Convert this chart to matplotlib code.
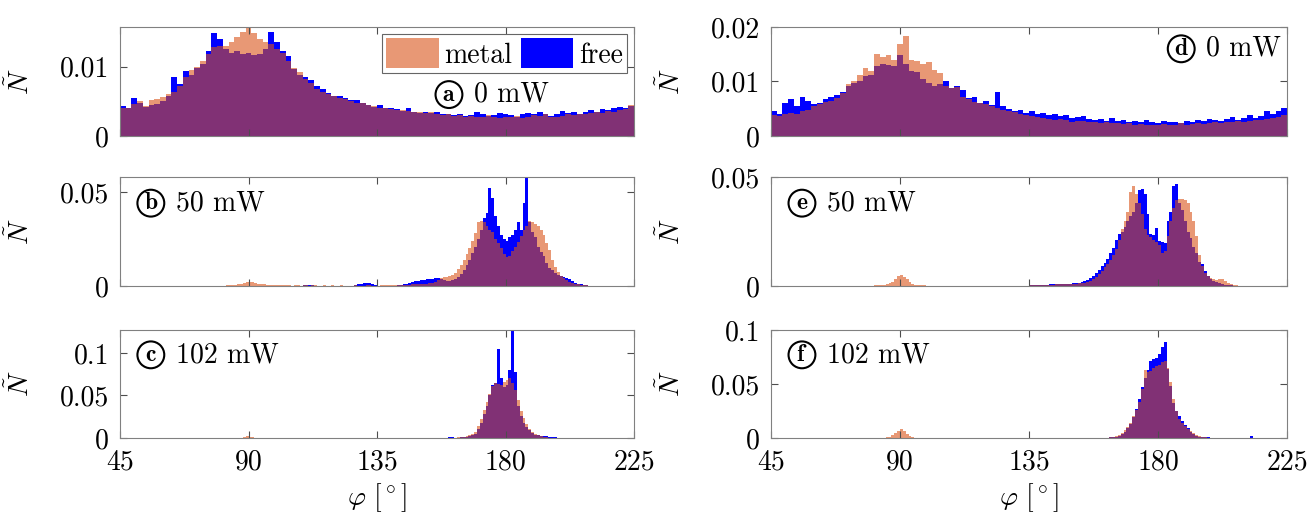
import numpy as np
import matplotlib
matplotlib.use("Agg")
import matplotlib.pyplot as plt
from matplotlib.patches import Patch

plt.rcParams["font.family"] = ["cmr10", "DejaVu Serif"]
plt.rcParams["mathtext.fontset"] = "cm"
plt.rcParams["axes.formatter.use_mathtext"] = True

# colours (MATLAB style)
col_metal = (0.85, 0.325, 0.098)
col_free = (0.0, 0.0, 1.0)

# ---- panel a: 0 mW (2 deg bins from 45) ----
a_start = 45
a_metal = [0.0040, 0.0041, 0.0046, 0.0050, 0.0043, 0.0052, 0.0054, 0.0056, 0.0060, 0.0064,
           0.0072, 0.0085, 0.0095, 0.0100, 0.0108, 0.0118, 0.0128, 0.0130, 0.0130, 0.0135,
           0.0142, 0.0150, 0.0155, 0.0148, 0.0140, 0.0135, 0.0132, 0.0125, 0.0120, 0.0108,
           0.0098, 0.0092, 0.0082, 0.0076, 0.0068, 0.0064, 0.0060, 0.0058, 0.0055, 0.0053,
           0.0050, 0.0048, 0.0047, 0.0044, 0.0043, 0.0040, 0.0041, 0.0039, 0.0037, 0.0038,
           0.0036, 0.0035, 0.0034, 0.0033, 0.0035, 0.0032, 0.0030, 0.0031, 0.0029, 0.0030,
           0.0028, 0.0029, 0.0027, 0.0028, 0.0030, 0.0027, 0.0026, 0.0028, 0.0027, 0.0029,
           0.0026, 0.0028, 0.0030, 0.0029, 0.0031, 0.0028, 0.0027, 0.0029, 0.0031, 0.0030,
           0.0032, 0.0031, 0.0033, 0.0034, 0.0033, 0.0036, 0.0035, 0.0038, 0.0039, 0.0045]
a_free = [0.0043, 0.0040, 0.0055, 0.0047, 0.0042, 0.0044, 0.0046, 0.0050, 0.0058, 0.0085,
          0.0075, 0.0093, 0.0088, 0.0098, 0.0104, 0.0122, 0.0148, 0.0140, 0.0125, 0.0120,
          0.0122, 0.0118, 0.0120, 0.0116, 0.0118, 0.0125, 0.0150, 0.0135, 0.0122, 0.0115,
          0.0096, 0.0088, 0.0085, 0.0080, 0.0072, 0.0067, 0.0062, 0.0058, 0.0057, 0.0055,
          0.0052, 0.0052, 0.0048, 0.0045, 0.0042, 0.0044, 0.0040, 0.0040, 0.0039, 0.0036,
          0.0040, 0.0035, 0.0033, 0.0035, 0.0033, 0.0034, 0.0031, 0.0032, 0.0030, 0.0031,
          0.0029, 0.0030, 0.0034, 0.0031, 0.0029, 0.0030, 0.0033, 0.0032, 0.0030, 0.0028,
          0.0031, 0.0033, 0.0032, 0.0034, 0.0031, 0.0029, 0.0031, 0.0036, 0.0033, 0.0035,
          0.0032, 0.0034, 0.0037, 0.0034, 0.0039, 0.0037, 0.0040, 0.0042, 0.0041, 0.0043]

# ---- panel d: 0 mW (2 deg bins from 45) ----
d_start = 45
d_metal = [0.0038, 0.0036, 0.0040, 0.0042, 0.0040, 0.0045, 0.0048, 0.0055, 0.0058, 0.0062,
           0.0065, 0.0070, 0.0078, 0.0095, 0.0100, 0.0112, 0.0125, 0.0120, 0.0150, 0.0145,
           0.0148, 0.0140, 0.0168, 0.0183, 0.0140, 0.0138, 0.0132, 0.0135, 0.0122, 0.0115,
           0.0092, 0.0088, 0.0090, 0.0072, 0.0068, 0.0062, 0.0060, 0.0058, 0.0055, 0.0052,
           0.0048, 0.0045, 0.0044, 0.0040, 0.0038, 0.0036, 0.0034, 0.0033, 0.0032, 0.0030,
           0.0031, 0.0029, 0.0026, 0.0028, 0.0027, 0.0025, 0.0026, 0.0024, 0.0025, 0.0023,
           0.0024, 0.0022, 0.0023, 0.0021, 0.0022, 0.0020, 0.0021, 0.0020, 0.0022, 0.0020,
           0.0021, 0.0023, 0.0021, 0.0022, 0.0024, 0.0022, 0.0023, 0.0025, 0.0024, 0.0026,
           0.0025, 0.0027, 0.0026, 0.0028, 0.0030, 0.0029, 0.0031, 0.0033, 0.0035, 0.0038]
d_free = [0.0045, 0.0040, 0.0060, 0.0068, 0.0055, 0.0072, 0.0065, 0.0058, 0.0060, 0.0068,
          0.0072, 0.0075, 0.0080, 0.0092, 0.0098, 0.0100, 0.0110, 0.0112, 0.0128, 0.0132,
          0.0130, 0.0128, 0.0148, 0.0132, 0.0120, 0.0118, 0.0105, 0.0098, 0.0092, 0.0095,
          0.0100, 0.0088, 0.0092, 0.0085, 0.0070, 0.0072, 0.0060, 0.0065, 0.0056, 0.0080,
          0.0055, 0.0050, 0.0046, 0.0048, 0.0042, 0.0045, 0.0040, 0.0042, 0.0038, 0.0040,
          0.0036, 0.0039, 0.0033, 0.0035, 0.0036, 0.0032, 0.0030, 0.0031, 0.0028, 0.0033,
          0.0027, 0.0030, 0.0026, 0.0028, 0.0025, 0.0030, 0.0026, 0.0024, 0.0027, 0.0025,
          0.0026, 0.0024, 0.0028, 0.0026, 0.0029, 0.0027, 0.0032, 0.0030, 0.0028, 0.0032,
          0.0035, 0.0030, 0.0033, 0.0038, 0.0033, 0.0036, 0.0046, 0.0040, 0.0045, 0.0052]

# ---- panel b: 50 mW (1 deg bins from 80) ----
b_start = 80
b_metal = [0.0002, 0.0002, 0.0003, 0.0004, 0.0005, 0.0006, 0.0008, 0.0012, 0.0016, 0.0020,
           0.0022, 0.0020, 0.0016, 0.0012, 0.0010, 0.0008, 0.0007, 0.0006, 0.0005, 0.0004,
           0.0004, 0.0003, 0.0003, 0.0003, 0.0003, 0.0002, 0.0003, 0.0003, 0.0002, 0.0003,
           0.0003, 0.0002, 0.0003, 0.0003, 0.0002, 0.0002, 0.0003, 0.0002, 0.0002, 0.0003,
           0.0002, 0.0002, 0.0003, 0.0002, 0.0002, 0.0002, 0.0002, 0.0003, 0.0002, 0.0002,
           0.0002, 0.0003, 0.0003, 0.0002, 0.0002, 0.0002, 0.0003, 0.0003, 0.0003, 0.0003,
           0.0003, 0.0003, 0.0004, 0.0005, 0.0005, 0.0006, 0.0007, 0.0008, 0.0009, 0.0010,
           0.0008, 0.0010, 0.0012, 0.0015, 0.0018, 0.0022, 0.0030, 0.0040, 0.0046, 0.0050,
           0.0054, 0.0060, 0.0070, 0.0090, 0.0110, 0.0140, 0.0170, 0.0200, 0.0240, 0.0280,
           0.0340, 0.0345, 0.0340, 0.0320, 0.0300, 0.0290, 0.0250, 0.0230, 0.0200, 0.0170,
           0.0155, 0.0160, 0.0185, 0.0210, 0.0235, 0.0265, 0.0300, 0.0320, 0.0345, 0.0340,
           0.0330, 0.0320, 0.0300, 0.0270, 0.0230, 0.0190, 0.0140, 0.0100, 0.0075, 0.0055,
           0.0040, 0.0030, 0.0022, 0.0016, 0.0012, 0.0009, 0.0007, 0.0005, 0.0003, 0.0002,
           0.0001]
b_free = [0.0, 0.0, 0.0, 0.0, 0.0001, 0.0001, 0.0001, 0.0001, 0.0001, 0.0001,
          0.0001, 0.0001, 0.0001, 0.0001, 0.0001, 0.0, 0.0, 0.0, 0.0, 0.0,
          0.0, 0.0, 0.0, 0.0, 0.0, 0.0, 0.0, 0.0001, 0.0002, 0.0004,
          0.0006, 0.0005, 0.0003, 0.0001, 0.0, 0.0, 0.0, 0.0, 0.0, 0.0,
          0.0, 0.0, 0.0, 0.0, 0.0001, 0.0001, 0.0002, 0.0004, 0.0008, 0.0012,
          0.0016, 0.0018, 0.0015, 0.0008, 0.0003, 0.0001, 0.0001, 0.0001, 0.0001, 0.0002,
          0.0001, 0.0002, 0.0003, 0.0005, 0.0008, 0.0012, 0.0016, 0.0020, 0.0024, 0.0027,
          0.0030, 0.0033, 0.0035, 0.0037, 0.0039, 0.0041, 0.0040, 0.0036, 0.0030, 0.0027,
          0.0027, 0.0030, 0.0038, 0.0050, 0.0065, 0.0085, 0.0110, 0.0140, 0.0175, 0.0210,
          0.0250, 0.0300, 0.0360, 0.0390, 0.0520, 0.0470, 0.0370, 0.0320, 0.0270, 0.0250,
          0.0240, 0.0260, 0.0270, 0.0300, 0.0340, 0.0300, 0.0440, 0.0600, 0.0340, 0.0290,
          0.0260, 0.0210, 0.0180, 0.0160, 0.0120, 0.0095, 0.0085, 0.0070, 0.0060, 0.0055,
          0.0050, 0.0042, 0.0035, 0.0025, 0.0018, 0.0012, 0.0008, 0.0005, 0.0003, 0.0002,
          0.0001]

# ---- panel c: 102 mW (1 deg bins) ----
c_start = 160
c_metal = [0.0003, 0.0004, 0.0005, 0.0007, 0.0010, 0.0015, 0.0022, 0.0035, 0.0050, 0.0070,
           0.0140, 0.0220, 0.0330, 0.0420, 0.0520, 0.0610, 0.0650, 0.0640, 0.0620, 0.0660,
           0.0680, 0.0700, 0.0650, 0.0560, 0.0450, 0.0320, 0.0230, 0.0160, 0.0110, 0.0075,
           0.0050, 0.0035, 0.0022, 0.0014, 0.0008, 0.0005, 0.0003, 0.0002, 0.0001, 0.0001]
c_free = [0.0010, 0.0006, 0.0004, 0.0005, 0.0007, 0.0010, 0.0015, 0.0022, 0.0032, 0.0050,
          0.0100, 0.0180, 0.0280, 0.0380, 0.0500, 0.0620, 0.0650, 0.1050, 0.0700, 0.0600,
          0.0620, 0.0800, 0.1300, 0.0780, 0.0380, 0.0260, 0.0180, 0.0130, 0.0090, 0.0060,
          0.0040, 0.0030, 0.0025, 0.0020, 0.0018, 0.0015, 0.0012, 0.0008, 0.0005, 0.0003]
c90_start = 87
c_metal_90 = [0.0005, 0.0012, 0.0020, 0.0015, 0.0006]

# ---- panel e: 50 mW (1 deg bins) ----
e_start = 135
e_metal = [0.0003, 0.0004, 0.0004, 0.0005, 0.0005, 0.0005, 0.0006, 0.0006, 0.0006, 0.0007,
           0.0007, 0.0008, 0.0008, 0.0009, 0.0010, 0.0010, 0.0011, 0.0012, 0.0014, 0.0016,
           0.0020, 0.0025, 0.0030, 0.0040, 0.0055, 0.0070, 0.0085, 0.0100, 0.0120, 0.0140,
           0.0170, 0.0210, 0.0260, 0.0300, 0.0340, 0.0430, 0.0460, 0.0420, 0.0380, 0.0330,
           0.0260, 0.0235, 0.0225, 0.0210, 0.0200, 0.0190, 0.0150, 0.0160, 0.0230, 0.0300,
           0.0360, 0.0395, 0.0400, 0.0400, 0.0395, 0.0380, 0.0340, 0.0300, 0.0230, 0.0140,
           0.0090, 0.0060, 0.0045, 0.0035, 0.0030, 0.0028, 0.0030, 0.0032, 0.0025, 0.0015,
           0.0008, 0.0005, 0.0003, 0.0002, 0.0001]
e_free = [0.0004, 0.0004, 0.0005, 0.0005, 0.0006, 0.0006, 0.0006, 0.0007, 0.0007, 0.0008,
          0.0008, 0.0009, 0.0009, 0.0010, 0.0011, 0.0012, 0.0013, 0.0015, 0.0018, 0.0022,
          0.0028, 0.0035, 0.0045, 0.0060, 0.0075, 0.0090, 0.0105, 0.0125, 0.0150, 0.0175,
          0.0210, 0.0240, 0.0250, 0.0270, 0.0300, 0.0320, 0.0340, 0.0380, 0.0440, 0.0445,
          0.0420, 0.0330, 0.0240, 0.0235, 0.0265, 0.0205, 0.0200, 0.0195, 0.0300, 0.0340,
          0.0460, 0.0470, 0.0380, 0.0350, 0.0300, 0.0250, 0.0220, 0.0180, 0.0150, 0.0110,
          0.0100, 0.0070, 0.0045, 0.0030, 0.0025, 0.0018, 0.0012, 0.0009, 0.0006, 0.0004,
          0.0003, 0.0002, 0.0001]
e90_start = 80
e_metal_90 = [0.0002, 0.0003, 0.0004, 0.0005, 0.0006, 0.0008, 0.0012, 0.0020, 0.0032, 0.0045,
              0.0050, 0.0042, 0.0030, 0.0018, 0.0010, 0.0006, 0.0004, 0.0003, 0.0003, 0.0002]

# ---- panel f: 102 mW (1 deg bins) ----
f_start = 162
f_metal = [0.0003, 0.0006, 0.0010, 0.0015, 0.0025, 0.0045, 0.0070, 0.0100, 0.0140, 0.0200,
           0.0260, 0.0330, 0.0450, 0.0630, 0.0610, 0.0620, 0.0650, 0.0670, 0.0680, 0.0700,
           0.0710, 0.0650, 0.0520, 0.0360, 0.0250, 0.0180, 0.0140, 0.0110, 0.0085, 0.0065,
           0.0045, 0.0030, 0.0020, 0.0012, 0.0007, 0.0004, 0.0002, 0.0001]
f_free = [0.0003, 0.0005, 0.0008, 0.0012, 0.0020, 0.0035, 0.0060, 0.0090, 0.0130, 0.0190,
          0.0270, 0.0360, 0.0470, 0.0560, 0.0630, 0.0710, 0.0730, 0.0740, 0.0780, 0.0840,
          0.0890, 0.0640, 0.0480, 0.0320, 0.0250, 0.0200, 0.0160, 0.0120, 0.0090, 0.0060,
          0.0035, 0.0020, 0.0012, 0.0008, 0.0006, 0.0005, 0.0004, 0.0003]
f90_start = 85
f_metal_90 = [0.0005, 0.0012, 0.0025, 0.0045, 0.0068, 0.0085, 0.0065, 0.0040, 0.0020, 0.0008, 0.0003]
f212_start = 212
f_free_212 = [0.0015]

labels = ["a", "b", "c", "d", "e", "f"]
powers = ["0 mW", "50 mW", "102 mW", "0 mW", "50 mW", "102 mW"]
ylims = [0.0157, 0.058, 0.127, 0.02, 0.05, 0.1]
yticks = [[0, 0.01], [0, 0.05], [0, 0.05, 0.1], [0, 0.01, 0.02], [0, 0.05], [0, 0.05, 0.1]]
yticklabels = [["0", "0.01"], ["0", "0.05"], ["0", "0.05", "0.1"],
               ["0", "0.01", "0.02"], ["0", "0.05"], ["0", "0.05", "0.1"]]
xticks = [45, 90, 135, 180, 225]


def hist(ax, start, vals, width, color, alpha=1.0):
    edges = start + width * np.arange(len(vals) + 1)
    ax.stairs(vals, edges, fill=True, color=color, alpha=alpha, linewidth=0)


fig = plt.figure(figsize=(13.11, 5.18), dpi=100)
W, H = 1311, 518
cols = [(120, 514), (771, 516)]
rows = [(27, 136), (177, 286), (330, 438)]
axes = []
for ci, (x0, w) in enumerate(cols):
    for ri, (top, bot) in enumerate(rows):
        ax = fig.add_axes([x0 / W, 1 - bot / H, w / W, (bot - top) / H])
        axes.append(ax)

fs = 20

# free first (opaque), metal on top (transparent)
hist(axes[0], a_start, a_free, 2, col_free)
hist(axes[0], a_start, a_metal, 2, col_metal, 0.6)
hist(axes[1], b_start, b_free, 1, col_free)
hist(axes[1], b_start, b_metal, 1, col_metal, 0.6)
hist(axes[2], c_start, c_free, 1, col_free)
hist(axes[2], c_start, c_metal, 1, col_metal, 0.6)
hist(axes[2], c90_start, c_metal_90, 1, col_metal, 0.6)
hist(axes[3], d_start, d_free, 2, col_free)
hist(axes[3], d_start, d_metal, 2, col_metal, 0.6)
hist(axes[4], e_start, e_free, 1, col_free)
hist(axes[4], e_start, e_metal, 1, col_metal, 0.6)
hist(axes[4], e90_start, e_metal_90, 1, col_metal, 0.6)
hist(axes[5], f_start, f_free, 1, col_free)
hist(axes[5], f212_start, f_free_212, 1, col_free)
hist(axes[5], f_start, f_metal, 1, col_metal, 0.6)
hist(axes[5], f90_start, f_metal_90, 1, col_metal, 0.6)

# label positions (axes fraction) for circled letter
label_pos = [(0.64, 0.38), (0.06, 0.76), (0.06, 0.77), (0.795, 0.8), (0.06, 0.76), (0.06, 0.77)]

for i, ax in enumerate(axes):
    ax.set_xlim(45, 225)
    ax.set_ylim(0, ylims[i])
    ax.set_xticks(xticks)
    ax.set_yticks(yticks[i], labels=yticklabels[i])
    if i in (2, 5):
        ax.set_xticklabels([str(t) for t in xticks])
        ax.set_xlabel(r"$\varphi\ [^\circ]$", fontsize=fs, labelpad=4)
    else:
        ax.set_xticklabels([])
    ax.tick_params(direction="in", top=True, right=True, length=5, width=0.8,
                   color="0.3", labelsize=fs, pad=8)
    for s in ax.spines.values():
        s.set_color("0.5")
        s.set_linewidth(0.8)
    ax.set_ylabel(r"$\tilde{N}$", fontsize=fs)
    ax.yaxis.set_label_coords(-0.165, 0.5)
    lx, ly = label_pos[i]
    ax.text(lx, ly, r"$\mathbf{%s}$" % labels[i], transform=ax.transAxes, fontsize=17,
            ha="center", va="center",
            bbox=dict(boxstyle="circle,pad=0.1", fc="none", ec="black", lw=1.5))
    ax.annotate(powers[i], xy=(lx, ly), xycoords="axes fraction", xytext=(18, 0),
                textcoords="offset points", fontsize=fs, ha="left", va="center")

handles = [Patch(facecolor=col_metal, alpha=0.6, edgecolor="none"),
           Patch(facecolor=col_free, edgecolor="none")]
leg = axes[0].legend(handles, ["metal", "free"], loc="upper right", ncol=2, fontsize=fs,
                     frameon=True, fancybox=False, edgecolor="0.4", framealpha=1,
                     handlelength=1.9, handleheight=1.3, handletextpad=0.2,
                     columnspacing=0.3, borderpad=0.15, borderaxespad=0.25)
leg.get_frame().set_linewidth(0.8)

fig.savefig("out.png", dpi=100)
